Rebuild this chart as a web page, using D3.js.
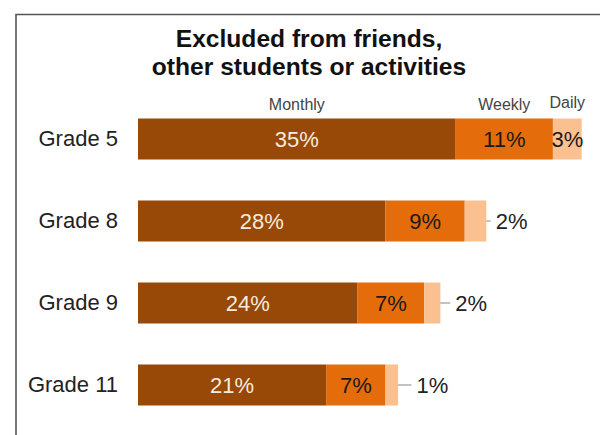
<!DOCTYPE html>
<html>
<head>
<meta charset="utf-8">
<script src="https://cdn.jsdelivr.net/npm/d3@7"></script>
<style>
  html, body { margin: 0; padding: 0; background: #fff; }
  svg { display: block; }
  text { font-family: "Liberation Sans", Arial, Helvetica, sans-serif; }
</style>
</head>
<body>
<svg id="chart" width="600" height="435"></svg>
<script>
// ---- data ----
const grades = ["Grade 5", "Grade 8", "Grade 9", "Grade 11"];
const seriesNames = ["Monthly", "Weekly", "Daily"];
const monthly = [35.3, 27.5, 24.4, 20.9];
const weekly  = [10.8, 8.8, 7.4, 6.6];
const daily   = [3.2, 2.4, 1.8, 1.4];
const titleLines = ["Excluded from friends,", "other students or activities"];

const colors = ["#984807", "#E46C0A", "#FAC090"];
const labelColors = ["#F7EBDD", "#1a1a1a", "#1a1a1a"];

const svg = d3.select("#chart");

// frame
svg.append("path")
  .attr("d", "M16,440 L16,14.5 L605,14.5")
  .attr("fill", "none")
  .attr("stroke", "#555")
  .attr("stroke-width", 1.6);

// title
svg.append("g").selectAll("text").data(titleLines).join("text")
  .attr("x", 309)
  .attr("y", (d, i) => 47 + i * 28)
  .attr("text-anchor", "middle")
  .attr("font-size", 24.6)
  .attr("font-weight", "bold")
  .attr("fill", "#111")
  .text(d => d);

// scales
const x = d3.scaleLinear().domain([0, 50]).range([138, 588]);
const y = d3.scaleBand().domain(grades).range([98, 426]).paddingInner(0.5).paddingOuter(0.25);

const rows = grades.map((g, i) => ({ grade: g, values: [monthly[i], weekly[i], daily[i]] }));
const stack = d3.stack().keys([0, 1, 2]).value((d, k) => d.values[k]);
const series = stack(rows);

// bars
const layers = svg.append("g").selectAll("g").data(series).join("g")
  .attr("fill", (d, i) => colors[i]);
layers.selectAll("rect").data(d => d).join("rect")
  .attr("x", d => x(d[0]))
  .attr("y", d => y(d.data.grade))
  .attr("width", d => x(d[1]) - x(d[0]))
  .attr("height", y.bandwidth());

// category labels
const yAxis = d3.axisLeft(y).tickSize(0).tickPadding(0);
const ya = svg.append("g").attr("transform", "translate(118,0)").call(yAxis);
ya.select(".domain").remove();
ya.selectAll("text")
  .attr("font-size", 22)
  .attr("fill", "#222")
  .style("font-family", "'Liberation Sans', Arial, sans-serif");

// value labels
const fmt = v => Math.round(v) + "%";
series.forEach((s, k) => {
  s.forEach((d, i) => {
    const w = x(d[1]) - x(d[0]);
    const cy = y(d.data.grade) + y.bandwidth() / 2;
    const label = fmt(d.data.values[k]);
    if (k < 2 || w > 25) {
      svg.append("text")
        .attr("x", (x(d[0]) + x(d[1])) / 2)
        .attr("y", cy)
        .attr("dy", "0.36em")
        .attr("text-anchor", "middle")
        .attr("font-size", 22)
        .attr("fill", labelColors[k])
        .text(label);
    } else {
      const tx = x(d[0]) + 31;
      svg.append("line")
        .attr("x1", x(d[1])).attr("x2", tx - 5)
        .attr("y1", cy).attr("y2", cy)
        .attr("stroke", "#999").attr("stroke-width", 1.2);
      svg.append("text")
        .attr("x", tx)
        .attr("y", cy)
        .attr("dy", "0.36em")
        .attr("font-size", 22)
        .attr("fill", "#222")
        .text(label);
    }
  });
});

// series headers over first bar
const first = series.map(s => s[0]);
svg.append("g").selectAll("text").data(first).join("text")
  .attr("x", d => (x(d[0]) + x(d[1])) / 2)
  .attr("y", (d, i) => i === 2 ? 108 : 110)
  .attr("text-anchor", "middle")
  .attr("font-size", 16)
  .attr("fill", "#444")
  .text((d, i) => seriesNames[i]);
</script>
</body>
</html>
